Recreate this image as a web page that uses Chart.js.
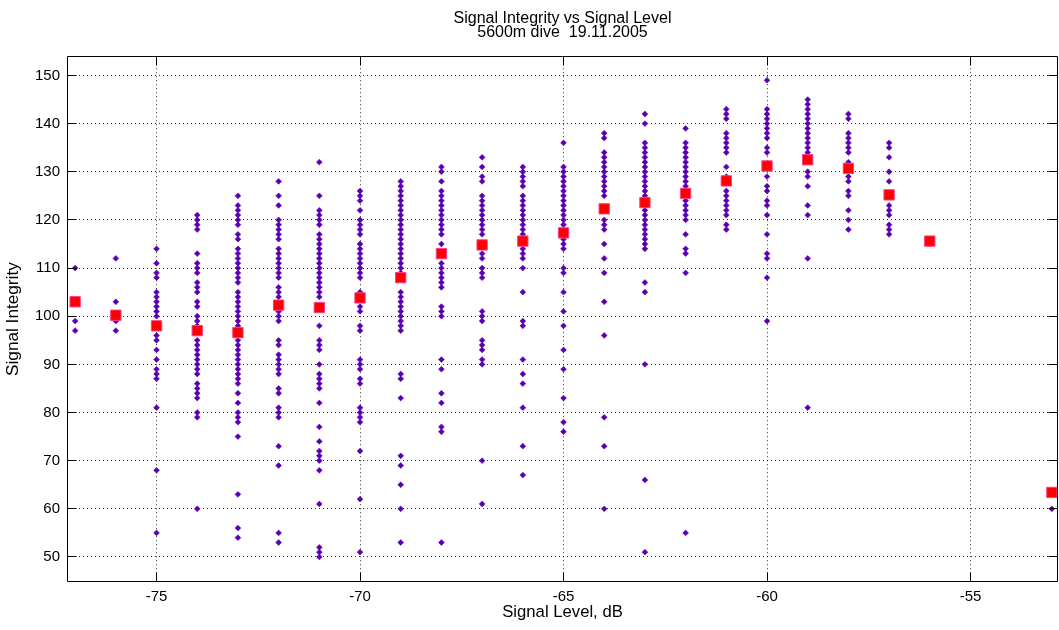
<!DOCTYPE html>
<html>
<head>
<meta charset="utf-8">
<title>Signal Integrity vs Signal Level</title>
<script src="https://cdn.jsdelivr.net/npm/chart.js@4.4.0/dist/chart.umd.min.js"></script>
<style>
  html, body { margin: 0; padding: 0; background: #fff; }
  canvas { display: block; }
</style>
</head>
<body>
<canvas id="chart" width="1059" height="630"></canvas>
<script>
// Titles
const titleLines = ['Signal Integrity vs Signal Level', '5600m dive  19.11.2005'];
const xLabel = 'Signal Level, dB';
const yLabel = 'Signal Integrity';

// Tick positions
const xTicks = [-75, -70, -65, -60, -55];
const yTicks = [50, 60, 70, 80, 90, 100, 110, 120, 130, 140, 150];

// Individual integrity readings, grouped by signal level (dB)
const signalLevels = [-77, -76, -75, -74, -73, -72, -71, -70, -69, -68, -67, -66, -65,
                      -64, -63, -62, -61, -60, -59, -58, -57, -56, -53];
const integrityReadings = [
  [110, 99, 97],
  [112, 103, 99, 97],
  [114, 111, 109, 108, 105, 104, 103, 102, 101, 100, 98, 96, 95, 93, 91, 89, 88, 87, 81, 68, 55],
  [121, 120, 119, 118, 113, 111, 110, 109, 107, 106, 105, 103, 102, 100, 99, 98, 97, 95, 94, 93,
   92, 91, 90, 89, 88, 86, 85, 84, 83, 80, 79, 60],
  [125, 123, 122, 121, 120, 119, 117, 116, 114, 113, 112, 111, 110, 109, 108, 107, 105, 104, 103,
   102, 101, 100, 99, 98, 97, 95, 94, 93, 92, 91, 90, 89, 88, 87, 86, 84, 82, 80, 79, 78, 75, 63, 56, 54],
  [128, 125, 123, 120, 119, 118, 117, 116, 114, 113, 112, 111, 110, 109, 108, 106, 105, 104, 102,
   101, 100, 99, 95, 94, 92, 91, 90, 89, 88, 85, 84, 81, 80, 79, 73, 69, 55, 53],
  [132, 125, 122, 121, 120, 119, 117, 116, 115, 114, 113, 112, 111, 110, 109, 108, 107, 106, 105,
   104, 98, 95, 94, 93, 90, 88, 87, 86, 85, 82, 77, 74, 72, 71, 70, 68, 61, 52, 51, 50],
  [126, 125, 124, 122, 120, 119, 118, 117, 115, 114, 113, 112, 111, 110, 109, 108, 105, 104, 102,
   101, 98, 97, 91, 90, 89, 87, 86, 81, 80, 79, 78, 72, 62, 51],
  [128, 127, 126, 125, 124, 123, 122, 121, 120, 119, 118, 117, 116, 115, 114, 113, 112, 111, 110,
   109, 108, 105, 104, 103, 102, 101, 100, 99, 98, 97, 88, 87, 83, 71, 69, 65, 60, 53],
  [131, 130, 128, 126, 125, 124, 123, 122, 121, 120, 119, 118, 117, 115, 113, 111, 110, 109, 108,
   107, 106, 102, 101, 100, 91, 89, 84, 82, 77, 76, 53],
  [133, 131, 129, 128, 125, 124, 123, 122, 121, 120, 119, 118, 117, 115, 113, 112, 110, 109, 108,
   101, 100, 99, 95, 94, 93, 91, 90, 70, 61],
  [131, 130, 129, 128, 127, 125, 124, 123, 122, 121, 120, 119, 118, 117, 116, 114, 113, 112, 110,
   105, 99, 98, 91, 88, 86, 81, 73, 67],
  [136, 131, 130, 129, 128, 127, 126, 125, 124, 123, 122, 121, 120, 119, 117, 116, 115, 114, 110,
   109, 105, 101, 98, 93, 89, 83, 78, 76],
  [138, 137, 134, 133, 132, 131, 130, 129, 128, 127, 126, 125, 122, 120, 119, 118, 115, 112, 109,
   103, 96, 79, 73, 60],
  [142, 140, 136, 135, 134, 133, 132, 131, 130, 129, 128, 127, 126, 125, 122, 121, 120, 119, 118,
   117, 116, 115, 114, 107, 105, 90, 66, 51],
  [139, 136, 135, 134, 133, 132, 131, 130, 129, 128, 127, 126, 124, 123, 122, 121, 120, 117, 114,
   113, 109, 55],
  [143, 142, 141, 138, 137, 136, 135, 134, 131, 129, 126, 125, 124, 123, 122, 121, 119, 118],
  [149, 143, 142, 141, 140, 139, 138, 137, 135, 134, 131, 129, 127, 126, 124, 123, 121, 117, 113,
   112, 108, 99],
  [145, 144, 143, 142, 141, 140, 139, 138, 137, 136, 135, 134, 132, 130, 129, 127, 123, 121, 112, 81],
  [142, 141, 138, 137, 136, 135, 134, 132, 131, 129, 128, 126, 125, 122, 120, 118],
  [136, 135, 133, 130, 128, 125, 123, 122, 121, 119, 118, 117],
  [116, 115],
  [60]
];

// Mean integrity per signal level
const meanLevels = [-77, -76, -75, -74, -73, -72, -71, -70, -69, -68, -67, -66, -65,
                    -64, -63, -62, -61, -60, -59, -58, -57, -56, -53];
const meanIntegrity = [103, 100.2, 98, 97, 96.6, 102.3, 101.8, 103.8, 108, 113, 114.8, 115.6, 117.3,
                       122.3, 123.6, 125.5, 128.1, 131.2, 132.5, 130.7, 125.2, 115.6, 63.4];

const readingPoints = [];
signalLevels.forEach((lvl, i) => {
  integrityReadings[i].forEach(v => readingPoints.push({ x: lvl, y: v }));
});
const meanPoints = meanLevels.map((lvl, i) => ({ x: lvl, y: meanIntegrity[i] }));

// Box frame with inward ticks on all four sides
const axesBox = {
  id: 'axesBox',
  afterDatasetsDraw(chart) {
    const { ctx, chartArea: a, scales: { x, y } } = chart;
    const al = p => Math.round(p - 0.5) + 0.5;
    const L = al(a.left), R = al(a.right - 1), T = al(a.top), B = al(a.bottom - 1);
    const tl = 9;
    ctx.save();
    ctx.strokeStyle = '#000';
    ctx.lineWidth = 1;
    ctx.beginPath();
    ctx.rect(L, T, R - L, B - T);
    xTicks.forEach(v => {
      const px = al(x.getPixelForValue(v));
      ctx.moveTo(px, B); ctx.lineTo(px, B - tl);
      ctx.moveTo(px, T); ctx.lineTo(px, T + tl);
    });
    yTicks.forEach(v => {
      const py = al(y.getPixelForValue(v));
      ctx.moveTo(L, py); ctx.lineTo(L + tl, py);
      ctx.moveTo(R, py); ctx.lineTo(R - tl, py);
    });
    ctx.stroke();
    ctx.restore();
  }
};

Chart.defaults.font.family = '"Liberation Sans", Arial, Helvetica, sans-serif';
Chart.defaults.color = '#000';

const gridColor = 'rgba(0,0,0,0.8)';

new Chart(document.getElementById('chart'), {
  type: 'scatter',
  data: {
    datasets: [
      {
        label: 'Mean',
        data: meanPoints,
        order: 0,
        pointStyle: 'rect',
        pointRadius: 7.3,
        backgroundColor: '#ff0000',
        borderColor: '#ff3c8c',
        borderWidth: 1
      },
      {
        label: 'Readings',
        data: readingPoints,
        order: 1,
        pointStyle: 'rectRot',
        pointRadius: 2.9,
        backgroundColor: '#5a00b4',
        borderColor: '#5a00b4',
        borderWidth: 0.6
      }
    ]
  },
  options: {
    responsive: false,
    animation: false,
    devicePixelRatio: 1,
    events: [],
    layout: { autoPadding: false, padding: { left: 0, right: 1, top: 0, bottom: 0 } },
    plugins: {
      legend: { display: false },
      tooltip: { enabled: false },
      title: {
        display: true,
        text: titleLines,
        fullSize: false,
        color: '#000',
        font: { size: 16, weight: 'normal', lineHeight: 0.85 },
        padding: { top: 12, bottom: 17 }
      }
    },
    scales: {
      x: {
        type: 'linear',
        min: -77.2,
        max: -52.85,
        afterBuildTicks: s => { s.ticks = xTicks.map(v => ({ value: v })); },
        afterFit: s => { s.height = 48; s.paddingLeft = 0; s.paddingRight = 0; },
        grid: { color: gridColor, lineWidth: 1, drawTicks: false },
        border: { display: false, dash: [1, 3] },
        ticks: {
          color: '#000', font: { size: 15 }, padding: 6,
          maxRotation: 0, autoSkip: false, callback: v => String(v)
        },
        title: {
          display: true, text: xLabel, color: '#000',
          font: { size: 16.7 }, padding: { top: 0, bottom: 8 }
        }
      },
      y: {
        type: 'linear',
        min: 44.8,
        max: 154,
        afterBuildTicks: s => { s.ticks = yTicks.map(v => ({ value: v })); },
        afterFit: s => { s.width = 67; s.paddingTop = 0; s.paddingBottom = 0; },
        grid: { color: gridColor, lineWidth: 1, drawTicks: false },
        border: { display: false, dash: [1, 3] },
        ticks: {
          color: '#000', font: { size: 15 }, padding: 7,
          autoSkip: false, callback: v => String(v)
        },
        title: {
          display: true, text: yLabel, color: '#000',
          font: { size: 17.2 }, padding: { top: 3, bottom: 0 }
        }
      }
    }
  },
  plugins: [axesBox]
});
</script>
</body>
</html>
